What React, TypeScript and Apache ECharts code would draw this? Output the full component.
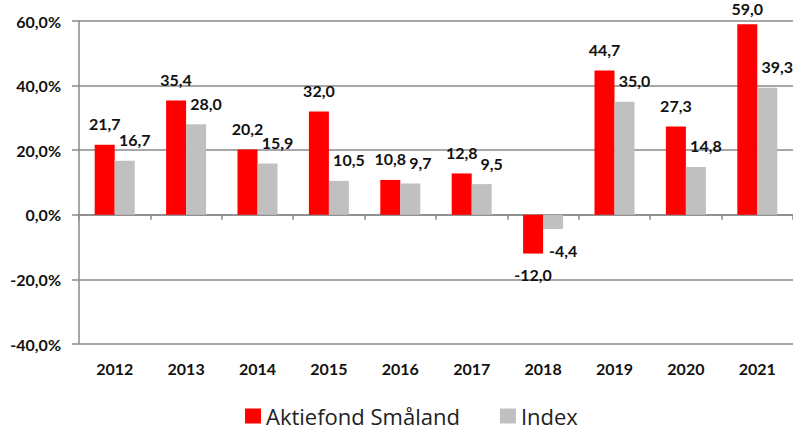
import React, { useEffect, useRef } from "react";
import * as echarts from "echarts";

const years = ["2012", "2013", "2014", "2015", "2016", "2017", "2018", "2019", "2020", "2021"];
const fundName = "Aktiefond Småland";
const indexName = "Index";
const fundValues = [21.7, 35.4, 20.2, 32.0, 10.8, 12.8, -12.0, 44.7, 27.3, 59.0];
const indexValues = [16.7, 28.0, 15.9, 10.5, 9.7, 9.5, -4.4, 35.0, 14.8, 39.3];

const Y_MAX = 60;
const fmt = (v: number) => v.toFixed(1).replace(".", ",");

const toData = (vals: number[]) =>
  vals.map((v) =>
    v < 0
      ? { value: v, label: { position: "bottom" } }
      : v > Y_MAX - 5
      ? { value: v, label: { distance: 8 } }
      : v
  );

export default function App() {
  const ref = useRef<HTMLDivElement>(null);
  useEffect(() => {
    if (!ref.current) return;
    const chart = echarts.init(ref.current, undefined, { renderer: "svg" });
    const gridColor = "#8a8a8a";
    const labelStyle = {
      show: true,
      position: "top",
      distance: 13,
      fontFamily: "Lato",
      fontWeight: "bold",
      fontSize: 16,
      color: "#111",
      formatter: (p: any) => fmt(p.value),
    };
    chart.setOption({
      animation: false,
      backgroundColor: "#ffffff",
      grid: { left: 79, top: 21, width: 720, height: 323, containLabel: false },
      legend: {
        left: 245,
        top: 405,
        padding: 0,
        icon: "rect",
        itemWidth: 16,
        itemHeight: 15,
        itemGap: 40,
        textStyle: {
          fontFamily: "Open Sans",
          fontSize: 22,
          lineHeight: 22,
          color: "#222",
        },
        data: [fundName, indexName],
      },
      xAxis: [
        {
          type: "category",
          data: years,
          axisLine: { onZero: true, lineStyle: { color: gridColor, width: 1.5 } },
          axisTick: { show: true, length: 5, lineStyle: { color: gridColor, width: 1.5 } },
          axisLabel: { show: false },
        },
        {
          type: "category",
          data: years,
          position: "bottom",
          axisLine: { show: false, onZero: false },
          axisTick: { show: false },
          axisLabel: {
            show: true,
            margin: 16,
            fontFamily: "Lato",
            fontWeight: "bold",
            fontSize: 16,
            color: "#111",
          },
        },
      ],
      yAxis: {
        type: "value",
        min: -40,
        max: Y_MAX,
        interval: 20,
        axisLine: { show: true, lineStyle: { color: gridColor, width: 1.5 } },
        axisTick: { show: true, length: 7, lineStyle: { color: gridColor, width: 1.5 } },
        splitLine: { show: true, lineStyle: { color: gridColor, width: 1.5 } },
        axisLabel: {
          margin: 18,
          fontFamily: "Lato",
          fontWeight: "bold",
          fontSize: 16,
          color: "#111",
          formatter: (v: number) => fmt(v) + "%",
        },
      },
      series: [
        {
          name: fundName,
          type: "bar",
          xAxisIndex: 0,
          data: toData(fundValues),
          barWidth: 20,
          barGap: "0%",
          itemStyle: { color: "#ff0000" },
          label: { ...labelStyle },
        },
        {
          name: indexName,
          type: "bar",
          xAxisIndex: 0,
          data: toData(indexValues),
          barWidth: 20,
          barGap: "0%",
          itemStyle: { color: "#c0c0c0" },
          label: { ...labelStyle, offset: [10, 0] },
        },
      ],
    });
    return () => chart.dispose();
  }, []);
  return (
    <div
      ref={ref}
      style={{ position: "absolute", left: 0, top: 0, width: 793, height: 432 }}
    />
  );
}
